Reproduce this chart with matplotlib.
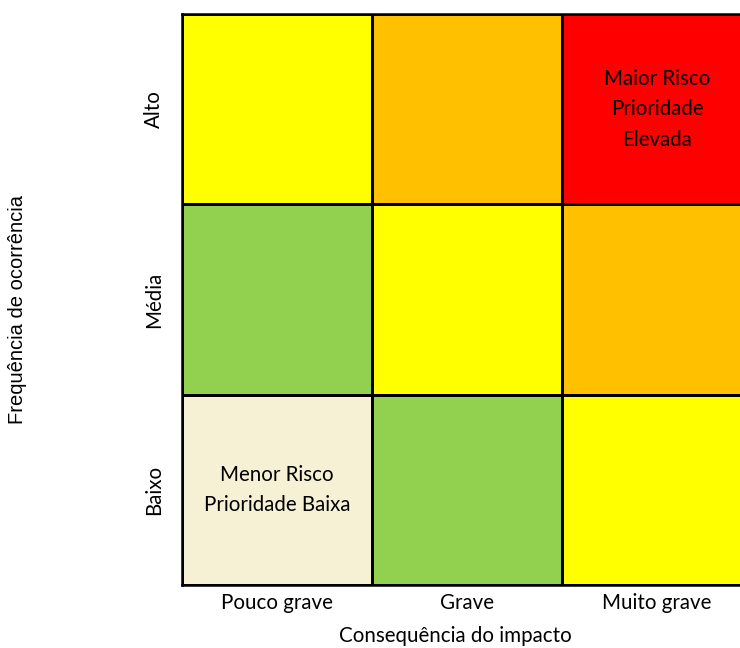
import numpy as np
import matplotlib.pyplot as plt
from matplotlib.colors import ListedColormap

# risk matrix: rows = frequency (Baixo, Média, Alto), cols = consequence
consequencia = ["Pouco grave", "Grave", "Muito grave"]
frequencia = ["Baixo", "Média", "Alto"]
nivel = np.array([
    [0, 1, 2],   # Baixo
    [1, 2, 3],   # Média
    [2, 3, 4],   # Alto
])
cores = ["#F6F0D5", "#92D050", "#FFFF00", "#FFC000", "#FF0000"]
rotulos = {(0, 0): "Menor Risco\nPrioridade Baixa",
           (2, 2): "Maior Risco\nPrioridade\nElevada"}

FONTE = "Lato"
fig = plt.figure(figsize=(7.4, 6.48), dpi=100)
ax = fig.add_axes([182/740, 1 - 585/648, 570/740, 571/648])

ax.pcolormesh(np.arange(4), np.arange(4), nivel, cmap=ListedColormap(cores),
              vmin=-0.5, vmax=4.5, edgecolor="black", linewidth=1.8)
ax.set_xlim(0, 3)
ax.set_ylim(0, 3)

for (r, c), txt in rotulos.items():
    ax.text(c + 0.5, r + 0.5, txt, ha="center", va="center",
            fontsize=14.8, family=FONTE, linespacing=1.65)

ax.set_xticks(np.arange(3) + 0.5)
ax.set_xticklabels(consequencia, fontsize=14.8, family=FONTE)
ax.set_yticks(np.arange(3) + 0.5)
ax.set_yticklabels(frequencia, fontsize=14.8, family=FONTE,
                   rotation=90, va="center")
ax.tick_params(axis="x", length=0, pad=6)
ax.tick_params(axis="y", length=0, pad=13)
for s in ax.spines.values():
    s.set_linewidth(1.8)

fig.text(455/740, 1 - 636/648, "Consequência do impacto", ha="center",
         va="center", fontsize=14.8, family=FONTE)
fig.text(18/740, 1 - 310/648, "Frequência de ocorrência", ha="center",
         va="center", rotation=90, fontsize=14.5, family="Liberation Sans")

fig.savefig("out.png", dpi=100, facecolor="white")
